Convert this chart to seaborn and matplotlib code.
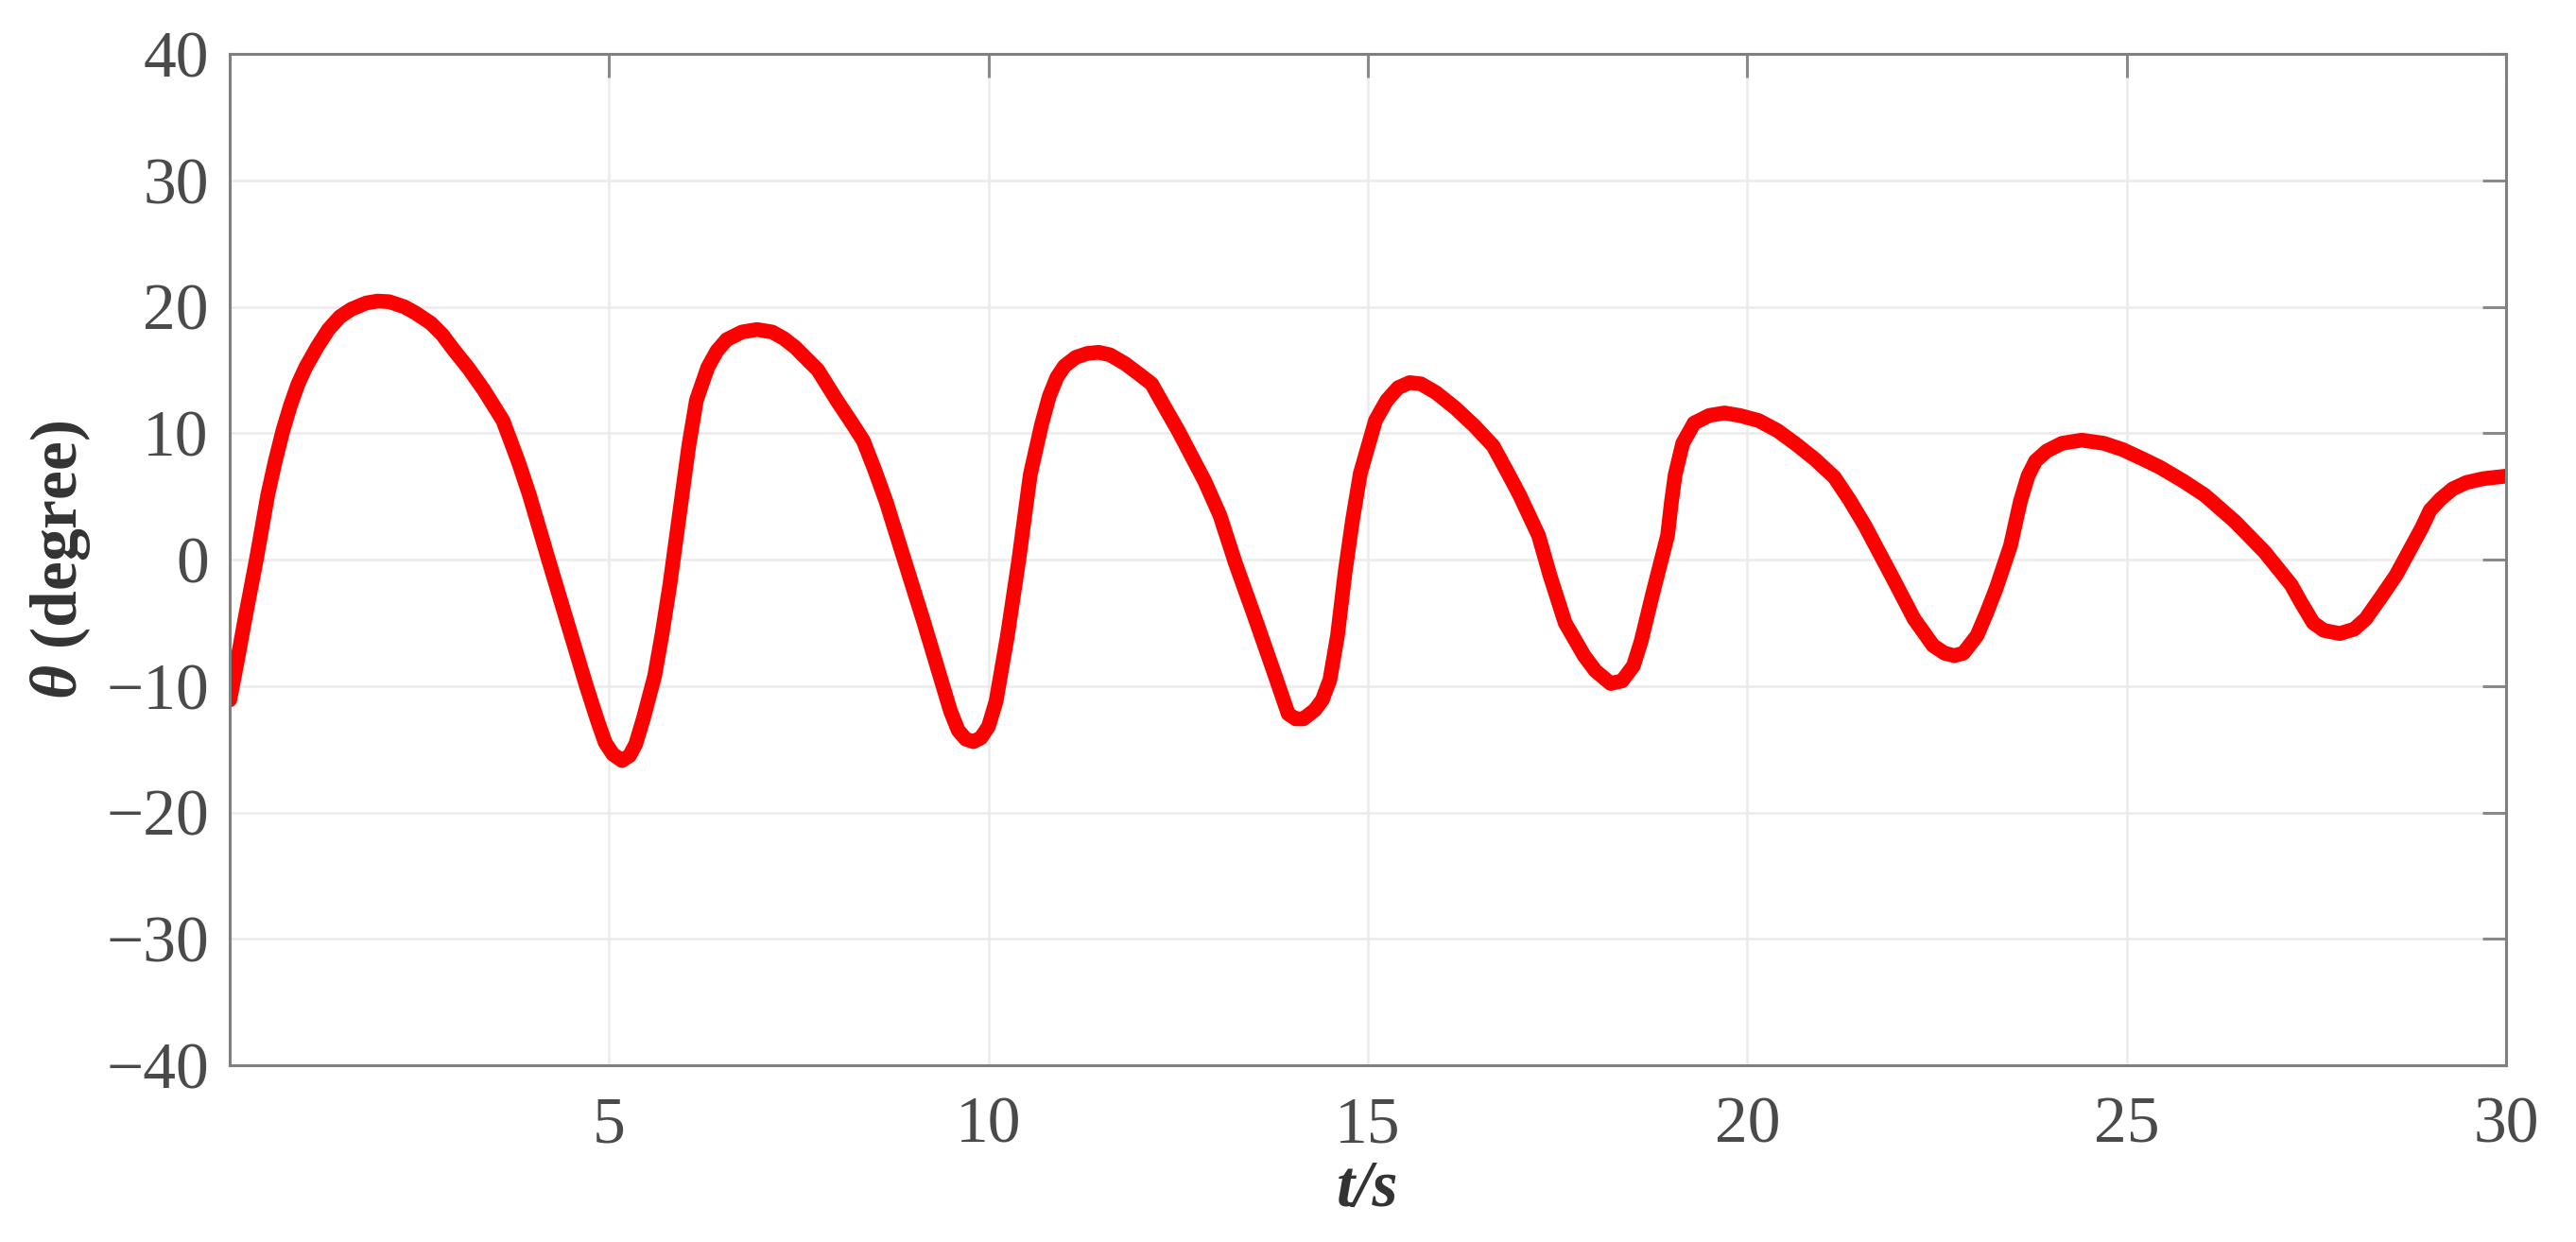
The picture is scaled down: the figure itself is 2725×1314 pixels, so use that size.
import numpy as np
import pandas as pd
import matplotlib
matplotlib.use("Agg")
import matplotlib.pyplot as plt
import seaborn as sns

# time (s) and angle (degree)
t = [0.0, 0.1, 0.2, 0.35, 0.5, 0.6, 0.7, 0.8, 0.9, 1.0, 1.15, 1.3, 1.45, 1.6, 1.8,
     1.95, 2.1, 2.3, 2.45, 2.65, 2.8, 2.95, 3.15, 3.35, 3.6, 3.8, 3.95, 4.2, 4.45,
     4.7, 4.85, 4.95, 5.05, 5.17, 5.27, 5.35, 5.45, 5.6, 5.7, 5.8, 5.95, 6.05, 6.15,
     6.3, 6.42, 6.55, 6.75, 6.95, 7.15, 7.3, 7.45, 7.6, 7.75, 8.0, 8.2, 8.35, 8.5,
     8.65, 8.9, 9.15, 9.4, 9.5, 9.6, 9.7, 9.8, 9.9, 10.0, 10.1, 10.25, 10.4, 10.55,
     10.7, 10.8, 10.9, 11.0, 11.15, 11.3, 11.45, 11.6, 11.8, 12.0, 12.15, 12.3, 12.5,
     12.85, 13.05, 13.25, 13.5, 13.75, 13.95, 14.05, 14.15, 14.3, 14.4, 14.5, 14.6,
     14.7, 14.8, 14.9, 15.0, 15.1, 15.25, 15.4, 15.55, 15.7, 15.9, 16.15, 16.4,
     16.65, 16.85, 17.0, 17.25, 17.4, 17.6, 17.85, 18.0, 18.2, 18.35, 18.5, 18.6,
     18.75, 18.95, 19.0, 19.05, 19.15, 19.3, 19.5, 19.7, 19.9, 20.15, 20.4, 20.65,
     20.9, 21.15, 21.35, 21.55, 21.9, 22.2, 22.45, 22.6, 22.73, 22.85, 23.03, 23.15,
     23.28, 23.47, 23.6, 23.7, 23.8, 23.95, 24.15, 24.41, 24.7, 24.95, 25.2, 25.44,
     25.75, 26.03, 26.43, 26.82, 27.17, 27.3, 27.46, 27.6, 27.81, 28.0, 28.15, 28.35,
     28.55, 28.89, 29.0, 29.14, 29.3, 29.48, 29.7, 30.0]
theta = [-11.1, -8.0, -4.7, 0.0, 5.1, 7.8, 10.2, 12.2, 13.9, 15.2, 16.8, 18.2, 19.2, 19.8, 20.3,
         20.45, 20.4, 20.0, 19.5, 18.7, 17.8, 16.6, 15.1, 13.4, 11.0, 7.8, 5.1, 0.0, -5.0,
         -10.0, -12.8, -14.5, -15.4, -15.9, -15.5, -14.6, -12.6, -9.2, -5.8, -2.0, 4.6, 9.0, 12.6,
         15.2, 16.5, 17.4, 18.0, 18.2, 18.0, 17.5, 16.8, 15.9, 15.0, 12.6, 10.8, 9.4, 7.1,
         4.6, -0.2, -5.0, -10.0, -12.0, -13.5, -14.2, -14.4, -14.1, -13.2, -11.2, -6.0, 0.0, 6.7,
         10.7, 12.9, 14.4, 15.3, 16.0, 16.3, 16.4, 16.2, 15.5, 14.6, 13.9, 12.3, 10.2,
         6.2, 3.5, -0.2, -4.4, -8.7, -12.2, -12.6, -12.6, -11.9, -11.1, -9.5, -6.0,
         -1.0, 3.2, 6.8, 8.9, 11.0, 12.6, 13.6, 14.0, 13.9, 13.2, 12.0, 10.6,
         9.0, 6.8, 5.1, 1.9, -1.25, -5.0, -7.6, -8.8, -9.8, -9.6, -8.4, -6.5,
         -2.8, 1.9, 4.5, 6.7, 9.2, 10.8, 11.4, 11.6, 11.4, 11.0, 10.2, 9.1,
         7.9, 6.5, 4.7, 2.7, -1.25, -4.7, -6.8, -7.4, -7.6, -7.4, -6.0, -4.3,
         -2.3, 1.1, 4.6, 6.6, 7.8, 8.6, 9.2, 9.45, 9.2, 8.7, 8.0, 7.3,
         6.2, 5.1, 3.0, 0.6, -2.0, -3.4, -5.0, -5.6, -5.85, -5.5, -4.7, -3.0,
         -1.25, 2.5, 3.9, 4.8, 5.6, 6.1, 6.4, 6.6]

x_ticks = [5, 10, 15, 20, 25, 30]
y_ticks = [-40, -30, -20, -10, 0, 10, 20, 30, 40]

df = pd.DataFrame({"t": t, "theta": theta})

sns.set_style("white")
plt.rcParams["font.family"] = ["Liberation Serif", "DejaVu Serif"]
plt.rcParams["mathtext.fontset"] = "custom"
plt.rcParams["mathtext.bfit"] = "Liberation Serif:italic:bold"
plt.rcParams["mathtext.it"] = "Liberation Serif:italic"
plt.rcParams["mathtext.rm"] = "Liberation Serif"

fig, ax = plt.subplots(figsize=(13.625, 6.57), dpi=200)
fig.subplots_adjust(left=0.0892, right=0.9728, top=0.9566, bottom=0.1423)

sns.lineplot(data=df, x="t", y="theta", ax=ax, color="#ff0000", linewidth=5.6,
             solid_joinstyle="round", solid_capstyle="round")

ax.set_xlim(0, 30)
ax.set_ylim(-40, 40)
ax.set_xticks(x_ticks)
ax.set_yticks(y_ticks)
ax.grid(True, color="#ebebeb", linewidth=0.9)
ax.set_axisbelow(True)

for s in ax.spines.values():
    s.set_color("#808080")
    s.set_linewidth(1.1)

ax.tick_params(direction="in", length=9, width=1.1, color="#8a8a8a",
               top=True, right=True, labelsize=25, labelcolor="#4a4a4a")
ax.tick_params(axis="x", pad=12)
ax.tick_params(axis="y", pad=8)

ax.set_xlabel("t/s", fontsize=25, fontweight="bold", fontstyle="italic",
              color="#333333", labelpad=1)
ax.set_ylabel(r"$\mathbfit{\theta}$ (degree)", fontsize=25, fontweight="bold",
              color="#333333", labelpad=5)

fig.savefig("out.png", dpi=200)
